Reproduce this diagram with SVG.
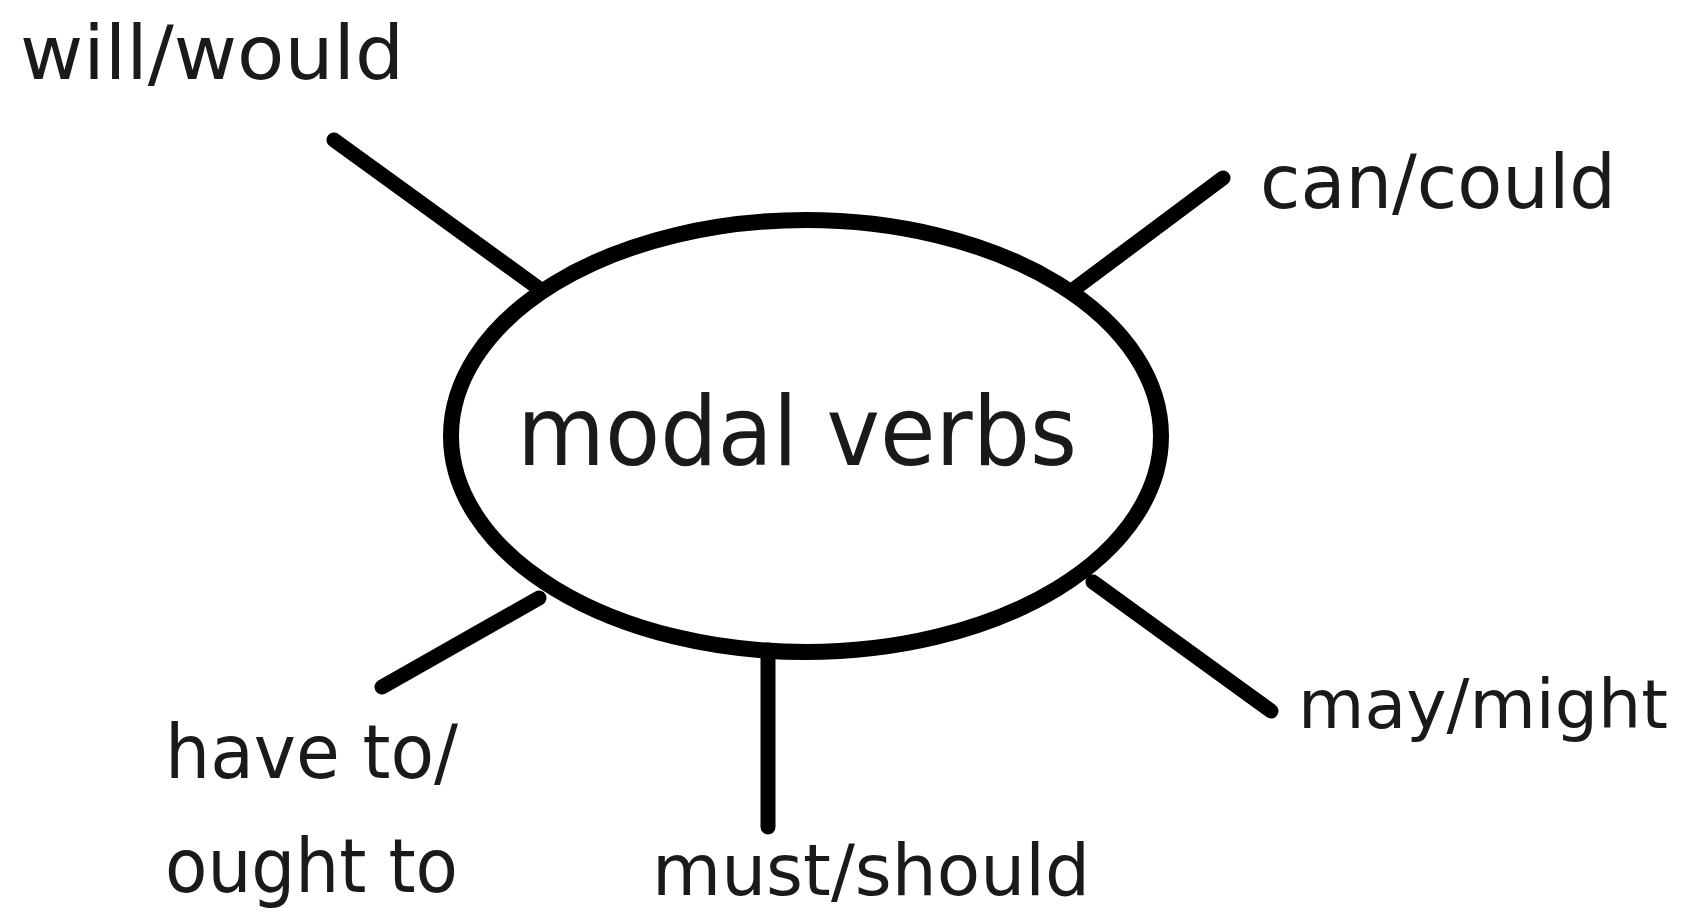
<svg xmlns="http://www.w3.org/2000/svg" width="1689" height="914" viewBox="0 0 1689 914">
<style>
.lbl{font-family:"DejaVu Sans","Liberation Sans",sans-serif;font-size:74px;fill:#1a1a1a}
.ctr{font-family:"DejaVu Sans","Liberation Sans",sans-serif;font-size:96px;fill:#1a1a1a}
.ln{stroke:#000;stroke-width:15;stroke-linecap:round;fill:none}
</style>
<rect width="1689" height="914" fill="#fff"/>
<g id="connectors">
<line class="ln" x1="334" y1="140" x2="541" y2="290"/>
<line class="ln" x1="1223" y1="178" x2="1073" y2="290"/>
<line class="ln" x1="1093" y1="582" x2="1271" y2="711"/>
<line class="ln" x1="539" y1="598" x2="382" y2="687"/>
<line class="ln" x1="768" y1="650" x2="768" y2="827" stroke-linecap="butt"/>
</g>
<g id="center">
<ellipse cx="806" cy="436" rx="355" ry="216" fill="none" stroke="#000" stroke-width="16"/>
<text class="ctr" x="517" y="465" textLength="560" lengthAdjust="spacingAndGlyphs">modal verbs</text>
</g>
<g id="will"><text class="lbl" x="20" y="79" textLength="384" lengthAdjust="spacingAndGlyphs">will/would</text></g>
<g id="can"><text class="lbl" x="1260" y="208" textLength="356" lengthAdjust="spacingAndGlyphs">can/could</text></g>
<g id="may"><text class="lbl" x="1298" y="728" style="font-size:68px" textLength="370" lengthAdjust="spacingAndGlyphs">may/might</text></g>
<g id="have"><text class="lbl" x="165" y="778" textLength="293" lengthAdjust="spacingAndGlyphs">have to/</text><text class="lbl" x="165" y="892" textLength="293" lengthAdjust="spacingAndGlyphs">ought to</text></g>
<g id="must"><text class="lbl" x="652" y="895" style="font-size:72px" textLength="438" lengthAdjust="spacingAndGlyphs">must/should</text></g>
</svg>
